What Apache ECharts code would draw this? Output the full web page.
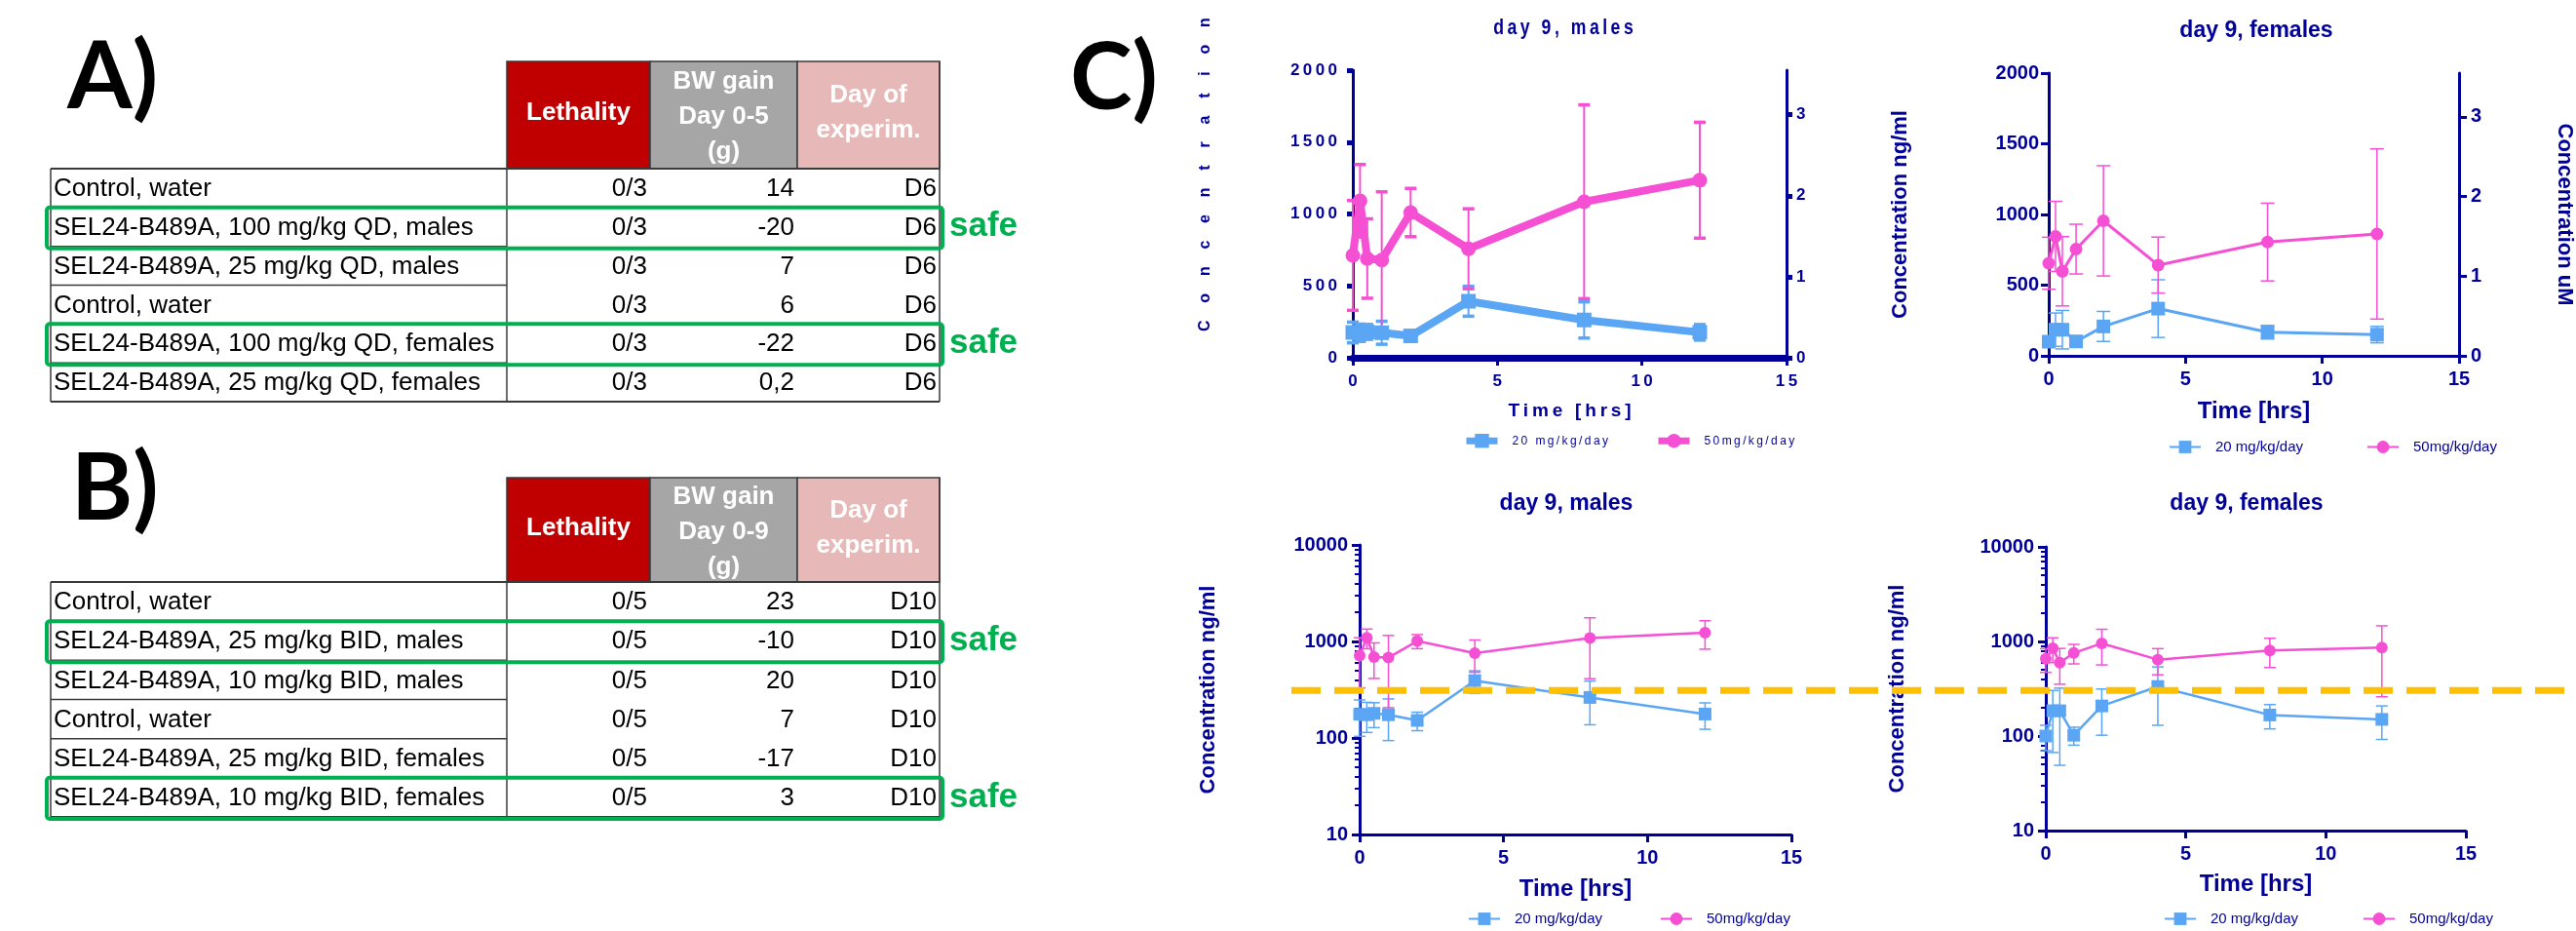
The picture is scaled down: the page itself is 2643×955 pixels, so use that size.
<!DOCTYPE html>
<html><head><meta charset="utf-8">
<script src="https://cdn.jsdelivr.net/npm/echarts@6/dist/echarts.min.js"></script>
<style>html,body{margin:0;padding:0;background:#fff;}#c{width:2643px;height:955px;}</style>
</head><body><div id="c"></div>
<script>
// ================= DATA =================
const tableAHeaders = ['Lethality', 'BW gain\nDay 0-5\n(g)', 'Day of\nexperim.'];
const tableALabels = ['Control, water', 'SEL24-B489A, 100 mg/kg QD, males', 'SEL24-B489A, 25 mg/kg QD, males',
  'Control, water', 'SEL24-B489A, 100 mg/kg QD, females', 'SEL24-B489A, 25 mg/kg QD, females'];
const tableALethality = ['0/3', '0/3', '0/3', '0/3', '0/3', '0/3'];
const tableABwGain = ['14', '-20', '7', '6', '-22', '0,2'];
const tableADay = ['D6', 'D6', 'D6', 'D6', 'D6', 'D6'];
const tableASafeRows = [1, 4];

const tableBHeaders = ['Lethality', 'BW gain\nDay 0-9\n(g)', 'Day of\nexperim.'];
const tableBLabels = ['Control, water', 'SEL24-B489A, 25 mg/kg BID, males', 'SEL24-B489A, 10 mg/kg BID, males',
  'Control, water', 'SEL24-B489A, 25 mg/kg BID, females', 'SEL24-B489A, 10 mg/kg BID, females'];
const tableBLethality = ['0/5', '0/5', '0/5', '0/5', '0/5', '0/5'];
const tableBBwGain = ['23', '-10', '20', '7', '-17', '3'];
const tableBDay = ['D10', 'D10', 'D10', 'D10', 'D10', 'D10'];
const tableBSafeRows = [1, 5];
const safeLabel = 'safe';
const panelLetters = ['A)', 'B)', 'C)'];

const timesHrs = [0, 0.25, 0.5, 1, 2, 4, 8, 12];
const males20Mean = [176, 174, 180, 174, 152, 393, 263, 177];
const males20Sd   = [72, 60, 52, 80, 33, 104, 126, 54];
const males50Mean = [712, 1092, 690, 680, 1010, 758, 1085, 1235];
const males50Sd   = [382, 252, 276, 474, 168, 278, 674, 403];
const females20Mean = [100, 185, 185, 102, 208, 334, 167, 150];
const females20Sd   = [30, 118, 136, 22, 106, 204, 48, 58];
const females50Mean = [655, 845, 598, 755, 955, 642, 805, 862];
const females50Sd   = [184, 248, 245, 176, 390, 198, 275, 602];

const seriesNames = ['20 mg/kg/day', '50mg/kg/day'];
const panelTitles = ['day 9, males', 'day 9, females', 'day 9, males', 'day 9, females'];
const xAxisTitle = 'Time [hrs]';
const yAxisTitle = 'Concentration ng/ml';
const yRightTitle = 'Concentration uM';
const uMTicks = [0, 1, 2, 3];
const uMMax = 3.55;
const linMax = 2000, linInterval = 500;
const logMin = 10, logMax = 10000;
const thresholdNgMl = 310;

// ================= STYLE =================
const NAVY = '#000099';
const BLUE = '#5AA6F5';
const PINK = '#F54FD4';
const ORANGE = '#FFC000';
const GREEN = '#00B050';
const FONT = '"Liberation Sans", Arial, sans-serif';
const LETTER_FONT = 'Lato, "Open Sans", sans-serif';
const TS = '\u2009';
const spaced = s => String(s).split('').join(TS);

const panels = [
  { grid: {left: 1388, top: 72, width: 445, height: 295}, log: false, data: 'm', narrow: true,
    lw: 8, sq: 15, ci: 15, err: {stem: 2, cap: 3.5, half: 6}, axisW: 3, xAxisW: 7, tickW: 5, tickL: 6,
    title: [1604, 29], legendTop: 445, legendX: [1501, 1698], legendH: 18, legendLW: 7,
    xNameGap: 45, yNameGap: 0 },
  { grid: {left: 2102, top: 75, width: 434, height: 290}, log: false, data: 'f', narrow: false,
    lw: 3, sq: 14, ci: 13, err: {stem: 1.5, cap: 1.5, half: 7}, axisW: 3, xAxisW: 3, tickW: 3, tickL: 8,
    title: [2315, 32], legendTop: 451, legendX: [2225, 2428], legendH: 16, legendLW: 2,
    xNameGap: 45, yNameGap: 141, rightName: true },
  { grid: {left: 1395, top: 559, width: 443, height: 297}, log: true, data: 'm', narrow: false,
    lw: 2.5, sq: 13, ci: 12, err: {stem: 1.5, cap: 1.5, half: 6}, axisW: 3, xAxisW: 3, tickW: 3, tickL: 8,
    title: [1607, 517], legendTop: 935, legendX: [1506, 1703], legendH: 16, legendLW: 2,
    xNameGap: 44, yNameGap: 144 },
  { grid: {left: 2099, top: 561, width: 431, height: 291}, log: true, data: 'f', narrow: false,
    lw: 2.5, sq: 13, ci: 12, err: {stem: 1.5, cap: 1.5, half: 6}, axisW: 3, xAxisW: 3, tickW: 3, tickL: 8,
    title: [2305, 517], legendTop: 935, legendX: [2220, 2424], legendH: 16, legendLW: 2,
    xNameGap: 43, yNameGap: 141 }
];

const dataSets = {
  m: [[males20Mean, males20Sd], [males50Mean, males50Sd]],
  f: [[females20Mean, females20Sd], [females50Mean, females50Sd]]
};

const minorLogPos = [];
for (let d = Math.log10(logMin); d < Math.log10(logMax); d++) {
  for (let m = 2; m <= 9; m++) minorLogPos.push(d + Math.log10(m));
}

function labelStyle(p) {
  return p.narrow
    ? {color: NAVY, fontFamily: FONT, fontWeight: 'bold', fontSize: 17}
    : {color: NAVY, fontFamily: FONT, fontWeight: 'bold', fontSize: 20};
}

function errSeries(color, xIdx, yIdx, mean, sd, st, key) {
  return {
    type: 'custom', name: 'err-' + key, xAxisIndex: xIdx, yAxisIndex: yIdx, z: 2, silent: true, clip: false,
    data: timesHrs.map((t, i) => [t, mean[i] - sd[i], mean[i] + sd[i]]),
    encode: {x: 0, y: [1, 2]},
    renderItem(params, api) {
      const x = api.value(0);
      const top = api.coord([x, api.value(2)]);
      const bot = api.coord([x, api.value(1)]);
      const h = st.half;
      return {type: 'group', children: [
        {type: 'line', shape: {x1: top[0], y1: top[1], x2: bot[0], y2: bot[1]}, style: {stroke: color, lineWidth: st.stem}},
        {type: 'line', shape: {x1: top[0] - h, y1: top[1], x2: top[0] + h, y2: top[1]}, style: {stroke: color, lineWidth: st.cap}},
        {type: 'line', shape: {x1: bot[0] - h, y1: bot[1], x2: bot[0] + h, y2: bot[1]}, style: {stroke: color, lineWidth: st.cap}}
      ]};
    }
  };
}

const option = {animation: false, backgroundColor: '#ffffff', grid: [], xAxis: [], yAxis: [], series: [], legend: [], graphic: {elements: []}};
const G = option.graphic.elements;
const leftYIndex = [];

panels.forEach((p, i) => {
  option.grid.push(Object.assign({containLabel: false}, p.grid));
  option.xAxis.push({
    gridIndex: i, type: 'value', min: 0, max: 15, interval: 5,
    axisLine: {onZero: false, lineStyle: {color: NAVY, width: p.xAxisW}},
    axisTick: {length: 8, lineStyle: {color: NAVY, width: 3}},
    splitLine: {show: false},
    axisLabel: Object.assign({margin: p.narrow ? 16 : 14, formatter: v => p.narrow ? spaced(v) : String(v)}, labelStyle(p)),
    name: p.narrow ? spaced(xAxisTitle) : xAxisTitle,
    nameLocation: 'middle', nameGap: p.xNameGap,
    nameTextStyle: p.narrow ? {color: NAVY, fontFamily: FONT, fontWeight: 'bold', fontSize: 19}
                            : {color: NAVY, fontFamily: FONT, fontWeight: 'bold', fontSize: 24}
  });
  const yL = option.yAxis.length;
  leftYIndex.push(yL);
  const yName = p.narrow ? '' : yAxisTitle;
  const yNameStyle = {color: NAVY, fontFamily: FONT, fontWeight: 'bold', fontSize: 22};
  if (!p.log) {
    option.yAxis.push({
      gridIndex: i, type: 'value', position: 'left', min: 0, max: linMax, interval: linInterval,
      axisLine: {show: true, lineStyle: {color: NAVY, width: p.axisW}},
      axisTick: {show: true, length: p.tickL, lineStyle: {color: NAVY, width: p.tickW}},
      splitLine: {show: false},
      axisLabel: Object.assign({margin: p.narrow ? 16 : 10, formatter: v => p.narrow ? spaced(v) : String(v)}, labelStyle(p)),
      name: yName, nameLocation: 'middle', nameGap: p.yNameGap, nameTextStyle: yNameStyle
    });
    option.yAxis.push({
      gridIndex: i, type: 'value', position: 'right', min: 0, max: uMMax, interval: 1,
      axisLine: {show: true, lineStyle: {color: NAVY, width: p.axisW}},
      axisTick: {show: true, length: p.tickL, customValues: uMTicks, lineStyle: {color: NAVY, width: p.tickW}},
      splitLine: {show: false},
      axisLabel: Object.assign({margin: p.narrow ? 10 : 12, customValues: uMTicks,
        formatter: v => Number.isInteger(v) ? String(v) : ''}, labelStyle(p)),
      name: p.rightName ? yRightTitle : '', nameLocation: 'middle', nameGap: 97, nameRotate: -90,
      nameTextStyle: yNameStyle
    });
  } else {
    option.yAxis.push({
      gridIndex: i, type: 'log', logBase: 10, position: 'left', min: logMin, max: logMax,
      axisLine: {show: true, lineStyle: {color: NAVY, width: p.axisW}},
      axisTick: {show: true, length: p.tickL, lineStyle: {color: NAVY, width: p.tickW}},
      splitLine: {show: false},
      axisLabel: Object.assign({margin: 12, formatter: v => String(Math.round(v))}, labelStyle(p)),
      name: yName, nameLocation: 'middle', nameGap: p.yNameGap, nameTextStyle: yNameStyle
    });
    option.yAxis.push({
      gridIndex: i, type: 'value', position: 'left', min: Math.log10(logMin), max: Math.log10(logMax),
      axisLine: {show: false}, axisLabel: {show: false}, splitLine: {show: false},
      axisTick: {show: true, length: 5, customValues: minorLogPos, lineStyle: {color: NAVY, width: 2}}
    });
  }
  const ds = dataSets[p.data];
  const colors = [BLUE, PINK];
  const symbols = ['rect', 'circle'];
  const sizes = [p.sq, p.ci];
  [0, 1].forEach(k => {
    option.series.push(errSeries(colors[k], i, yL, ds[k][0], ds[k][1], p.err, i + '-' + k));
  });
  [0, 1].forEach(k => {
    option.series.push({
      type: 'line', name: seriesNames[k], xAxisIndex: i, yAxisIndex: yL, z: 3, clip: false,
      data: timesHrs.map((t, j) => [t, ds[k][0][j]]),
      symbol: symbols[k], symbolSize: sizes[k], showSymbol: true,
      lineStyle: {color: colors[k], width: p.lw}, itemStyle: {color: colors[k]}
    });
  });
  [0, 1].forEach(k => {
    option.legend.push({
      data: [seriesNames[k]], left: p.legendX[k], top: p.legendTop, padding: 0,
      itemWidth: 32, itemHeight: p.legendH, selectedMode: false,
      lineStyle: {width: p.legendLW},
      formatter: p.narrow ? (n => spaced(n)) : undefined,
      textStyle: p.narrow ? {color: NAVY, fontFamily: FONT, fontSize: 12, padding: [0, 0, 0, 10]}
                          : {color: NAVY, fontFamily: FONT, fontSize: 15, padding: [0, 0, 0, 10]}
    });
  });
  // panel title
  G.push({type: 'text', x: p.title[0], y: p.title[1], silent: true, scaleX: p.narrow ? 0.8 : 1, style: {
    text: p.narrow ? spaced(panelTitles[i]) : panelTitles[i], fill: NAVY,
    font: p.narrow ? 'bold 22px ' + FONT : 'bold 23px ' + FONT,
    align: 'center', verticalAlign: 'middle', textAlign: 'center', textVerticalAlign: 'middle'}});
});

// Top-left y-axis title (letter-spaced, partially above the canvas)
G.push({type: 'text', x: 1237, y: 340, rotation: Math.PI / 2, silent: true, style: {
  text: yAxisTitle.split('').join('    '), fill: NAVY, font: 'bold 16px ' + FONT,
  align: 'left', verticalAlign: 'middle', textAlign: 'left', textVerticalAlign: 'middle'}});

// Panel letters
const letterPos = [[69, 80], [73, 502], [1098, 81]];
panelLetters.forEach((t, i) => {
  G.push({type: 'text', x: letterPos[i][0], y: letterPos[i][1], silent: true, style: {
    text: t, fill: '#000', font: 'bold 96px ' + LETTER_FONT,
    align: 'left', verticalAlign: 'middle', textAlign: 'left', textVerticalAlign: 'middle'}});
});

// Tables
function buildTable(headers, labels, leth, bw, day, safeRows, headTop, headBottom, bottom) {
  const cols = [52, 520, 667, 818, 964];
  const heads = ['#C00000', '#A6A6A6', '#E6B8B7'];
  const n = labels.length;
  const rowH = (bottom - headBottom) / n;
  headers.forEach((h, c) => {
    G.push({type: 'rect', silent: true, shape: {x: cols[c + 1], y: headTop, width: cols[c + 2] - cols[c + 1], height: headBottom - headTop},
      style: {fill: heads[c], stroke: '#3a3a3a', lineWidth: 1.5}});
    const lines = h.split('\n');
    const cx = (cols[c + 1] + cols[c + 2]) / 2, cy = (headTop + headBottom) / 2;
    lines.forEach((ln, j) => {
      G.push({type: 'text', x: cx, y: cy + (j - (lines.length - 1) / 2) * 36 + (lines.length === 3 ? 2 : -2), silent: true, style: {
        text: ln, fill: '#ffffff', font: 'bold 26px ' + FONT,
        align: 'center', verticalAlign: 'middle', textAlign: 'center', textVerticalAlign: 'middle'}});
    });
  });
  const L = (x1, y1, x2, y2, w) => G.push({type: 'line', silent: true, shape: {x1, y1, x2, y2}, style: {stroke: '#3a3a3a', lineWidth: w}});
  L(cols[0], headBottom, cols[4], headBottom, 2);
  L(cols[0], bottom, cols[4], bottom, 2);
  L(cols[0], headBottom, cols[0], bottom, 1.5);
  L(cols[1], headBottom, cols[1], bottom, 1.5);
  L(cols[4], headTop, cols[4], bottom, 1.5);
  for (let r = 1; r < n; r++) L(cols[0], headBottom + r * rowH, cols[1], headBottom + r * rowH, 1.5);
  const rightX = [664, 815, 961];
  labels.forEach((lab, r) => {
    const cy = headBottom + (r + 0.5) * rowH;
    G.push({type: 'text', x: cols[0] + 3, y: cy + 1, silent: true, style: {text: lab, fill: '#000', font: '26px ' + FONT,
      align: 'left', verticalAlign: 'middle', textAlign: 'left', textVerticalAlign: 'middle'}});
    [leth[r], bw[r], day[r]].forEach((v, c) => {
      G.push({type: 'text', x: rightX[c], y: cy + 1, silent: true, style: {text: v, fill: '#000', font: '26px ' + FONT,
        align: 'right', verticalAlign: 'middle', textAlign: 'right', textVerticalAlign: 'middle'}});
    });
  });
  safeRows.forEach(r => {
    const y0 = headBottom + r * rowH;
    G.push({type: 'rect', silent: true, z: 10, shape: {x: 48, y: y0, width: 919, height: rowH + 2, r: 3},
      style: {fill: 'none', stroke: GREEN, lineWidth: 4}});
    G.push({type: 'text', x: 974, y: y0 + rowH / 2, silent: true, style: {text: safeLabel, fill: GREEN, font: 'bold 35px ' + FONT,
      align: 'left', verticalAlign: 'middle', textAlign: 'left', textVerticalAlign: 'middle'}});
  });
}
buildTable(tableAHeaders, tableALabels, tableALethality, tableABwGain, tableADay, tableASafeRows, 63, 173, 412);
buildTable(tableBHeaders, tableBLabels, tableBLethality, tableBBwGain, tableBDay, tableBSafeRows, 490, 597, 838);

const chart = echarts.init(document.getElementById('c'), null, {renderer: 'canvas', width: 2643, height: 955});
chart.setOption(option);

// Threshold dashed line, placed through the log axis of the bottom-left panel
const yThr = chart.convertToPixel({yAxisIndex: leftYIndex[2]}, thresholdNgMl);
chart.setOption({graphic: {elements: [{id: 'threshold', type: 'line', silent: true, z: 100,
  shape: {x1: 1325, y1: yThr, x2: 2643, y2: yThr},
  style: {stroke: ORANGE, lineWidth: 7, lineDash: [30, 14]}}]}});
</script>
</body></html>
